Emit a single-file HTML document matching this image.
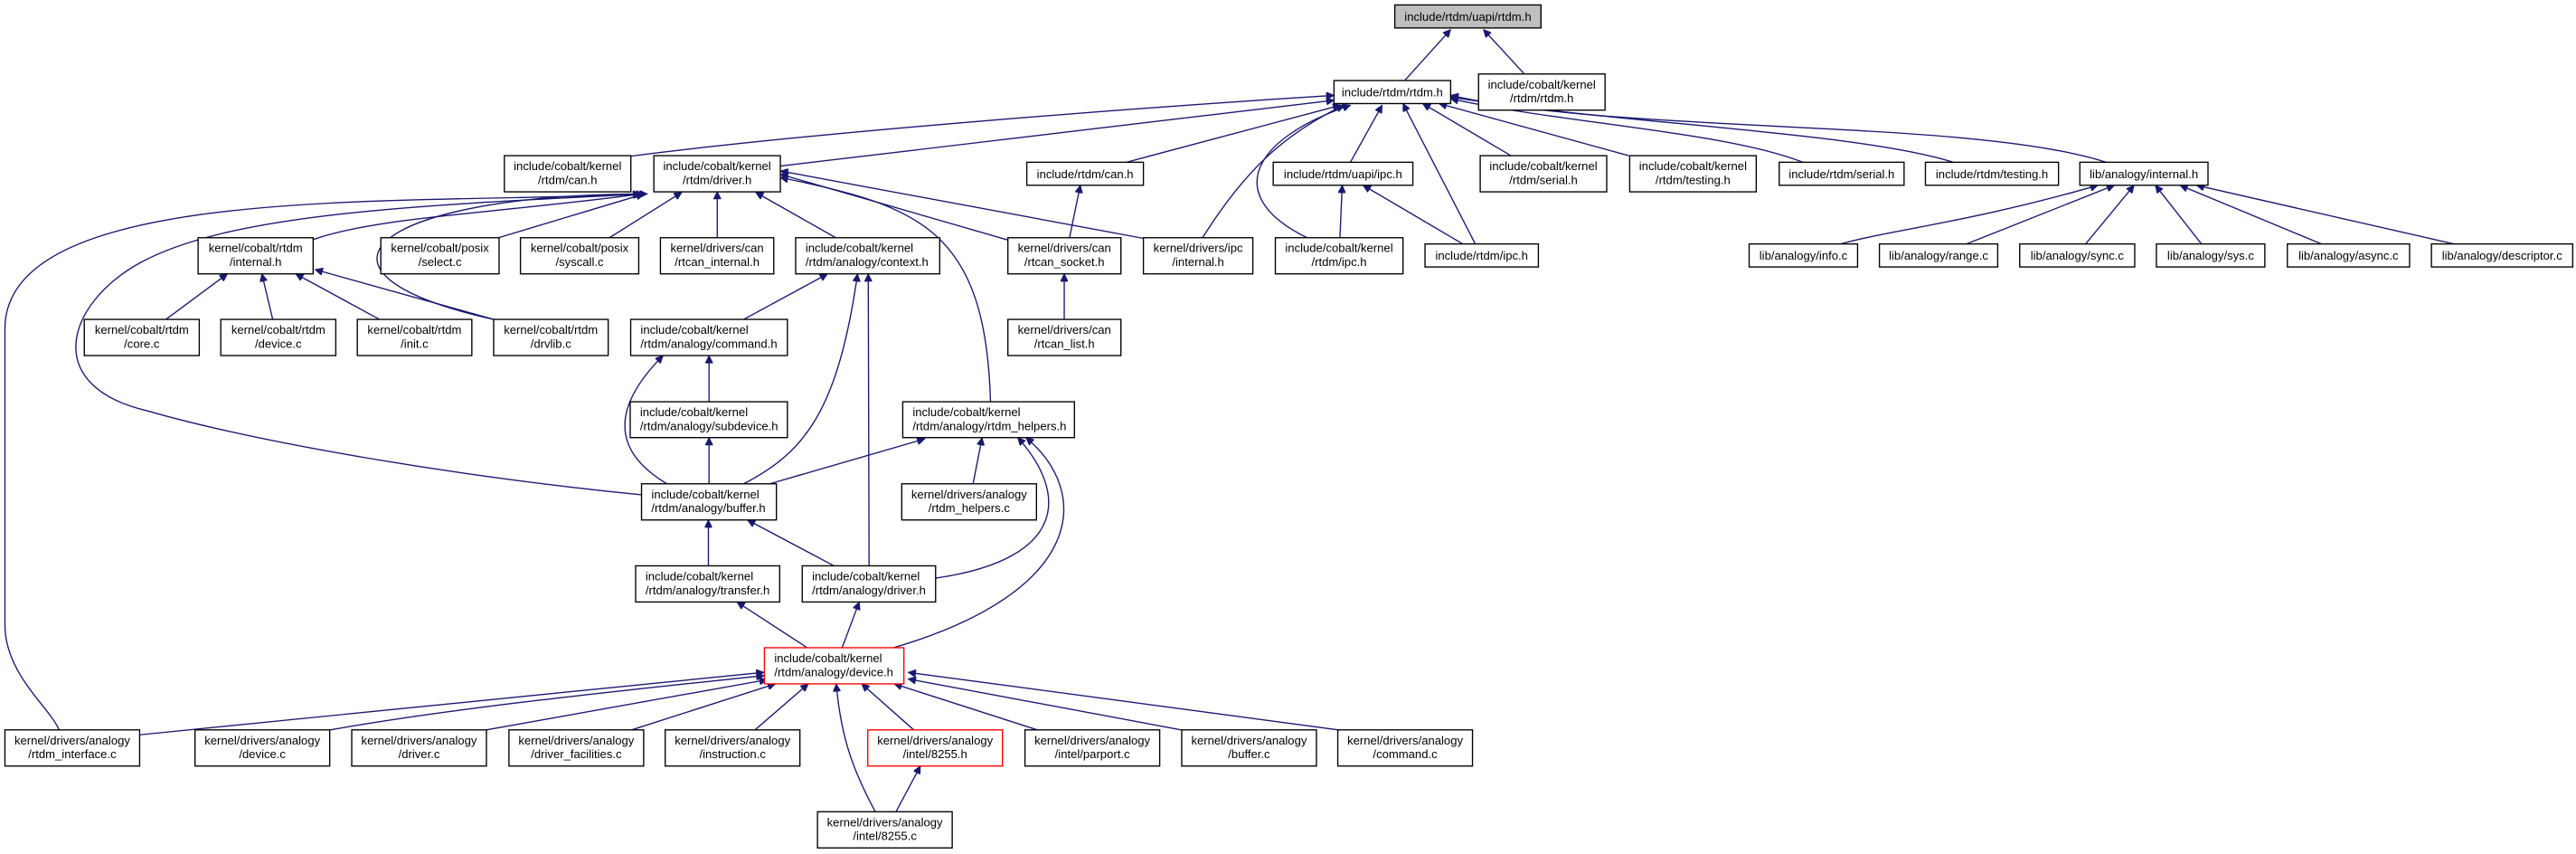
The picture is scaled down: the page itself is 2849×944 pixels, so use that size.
<!DOCTYPE html>
<html><head><meta charset="utf-8"><style>
html,body{margin:0;padding:0;background:#fff;}
svg{display:block;}
text{font-family:"Liberation Sans",Arial,sans-serif;font-size:7.2px;fill:#000;}
.e{fill:none;stroke:#191970;stroke-width:0.75;marker-start:url(#a);}
.n{fill:#fff;stroke:#000;stroke-width:0.75;}
</style></head><body>
<svg width="2849" height="944" viewBox="0 0 1568 519.5" preserveAspectRatio="none" xmlns="http://www.w3.org/2000/svg">
<defs><marker id="a" viewBox="0 0 10 10" refX="10" refY="5" markerWidth="5.5" markerHeight="4.5" markerUnits="userSpaceOnUse" orient="auto-start-reverse"><path d="M0,0 L10,5 L0,10 z" fill="#191970" stroke="#191970"/></marker></defs>
<g>
<path class="e" d="M883,18 L855,49"/>
<path class="e" d="M903,18 L927.5,44.6"/>
<path class="e" d="M812,58 C700,65 500,80 384,95"/>
<path class="e" d="M812,61 L475,101"/>
<path class="e" d="M816,64 L685.6,98.7"/>
<path class="e" d="M818,64 C785,80 760,100 732,144.6"/>
<path class="e" d="M822,64 C760,85 745,120 795.6,144.6"/>
<path class="e" d="M841.3,64 L822,98.7"/>
<path class="e" d="M854,63 L898,148.4"/>
<path class="e" d="M866,63 L919.7,94.7"/>
<path class="e" d="M876,63 L991.4,94.7"/>
<path class="e" d="M883,60 C950,75 1050,80 1097.4,98.7"/>
<path class="e" d="M883,59 C980,75 1130,80 1189,98.7"/>
<path class="e" d="M883,58 C990,82 1200,72 1282,98.7"/>
<path class="e" d="M390,118 C300,130 230,132 191,145.6"/>
<path class="e" d="M392,118 L303.5,144.6"/>
<path class="e" d="M415,117 L371,144.6"/>
<path class="e" d="M436.6,116.5 L436.6,144.6"/>
<path class="e" d="M460,117 L508.7,144.6"/>
<path class="e" d="M475,106 L613.5,146"/>
<path class="e" d="M475,104 L696,145"/>
<path class="e" d="M475,108 C560,125 600,140 602.9,244.4"/>
<path class="e" d="M394,118 C230,118 170,165 300.5,194.3"/>
<path class="e" d="M390,118 C250,125 3,110 3,200 L3,380 C3,410 30,430 36,444"/>
<path class="e" d="M392,118 C250,125 140,130 85,160 C40,185 25,235 90,250 C160,270 280,290 390.5,301"/>
<path class="e" d="M138.4,166.6 L101,194.3"/>
<path class="e" d="M159.4,166.6 L166,194.3"/>
<path class="e" d="M180,166.6 L231,194.3"/>
<path class="e" d="M191.8,164 L300.5,194.3"/>
<path class="e" d="M503.7,166.6 L452.7,194.3"/>
<path class="e" d="M522,166.6 C510,250 490,275 452.7,294.3"/>
<path class="e" d="M528.5,166.6 L529,344.2"/>
<path class="e" d="M431.6,216.3 L431.6,244.4"/>
<path class="e" d="M403.6,216.3 C380,240 365,270 406,294.3"/>
<path class="e" d="M431.6,266.2 L431.6,294.3"/>
<path class="e" d="M562.9,267 L468.6,294.3"/>
<path class="e" d="M597.8,266.2 L592.3,294.3"/>
<path class="e" d="M619.5,266.2 C650,300 650,340 569.5,351.7"/>
<path class="e" d="M624.5,266.2 C665,300 660,360 544,394"/>
<path class="e" d="M431.2,316.3 L431.2,344.2"/>
<path class="e" d="M455,316.3 L507.6,344.2"/>
<path class="e" d="M448.6,366.2 L491.3,394"/>
<path class="e" d="M523,366.2 L512.6,394"/>
<path class="e" d="M465,409 L85,447"/>
<path class="e" d="M465,411 C380,420 280,430 201,444"/>
<path class="e" d="M466.9,413.5 L296,444"/>
<path class="e" d="M472,416 L384.5,444"/>
<path class="e" d="M492,416 L459.6,444"/>
<path class="e" d="M509,416 C512,450 520,470 532.8,493.8"/>
<path class="e" d="M524.5,416 L556.2,444"/>
<path class="e" d="M544.3,416 L631.4,444"/>
<path class="e" d="M552.8,413 L719,444"/>
<path class="e" d="M552.8,409 L814.6,444"/>
<path class="e" d="M560.2,466 L545.4,493.8"/>
<path class="e" d="M647.8,166.6 L647.8,194.3"/>
<path class="e" d="M657.6,112.7 L651,144.6"/>
<path class="e" d="M817,112.7 L815.6,144.6"/>
<path class="e" d="M829.7,112.7 L890.4,148.4"/>
<path class="e" d="M1277,112.7 C1200,135 1150,140 1120.5,148.4"/>
<path class="e" d="M1287,112.7 L1197,148.4"/>
<path class="e" d="M1299,112.7 L1269.5,148.4"/>
<path class="e" d="M1312,112.7 L1340,148.4"/>
<path class="e" d="M1327,112.7 L1413,148.4"/>
<path class="e" d="M1337,112.7 L1493.7,148.4"/>
</g>
<g>
<rect x="849" y="3" width="89" height="14" fill="#bfbfbf" stroke="#000" stroke-width="0.75"/><text x="893.5" y="12.6" text-anchor="middle">include/rtdm/uapi/rtdm.h</text>
<rect class="n" x="812" y="49" width="71" height="14"/><text x="847.5" y="58.6" text-anchor="middle">include/rtdm/rtdm.h</text>
<rect class="n" x="900" y="45" width="77" height="22"/><text x="938.5" y="53.8" text-anchor="middle">include/cobalt/kernel</text><text x="938.5" y="62.3" text-anchor="middle">/rtdm/rtdm.h</text>

<rect class="n" x="307" y="94.7" width="77" height="22"/><text x="345.5" y="103.5" text-anchor="middle">include/cobalt/kernel</text><text x="345.5" y="112" text-anchor="middle">/rtdm/can.h</text>
<rect class="n" x="398" y="94.7" width="77" height="22"/><text x="436.5" y="103.5" text-anchor="middle">include/cobalt/kernel</text><text x="436.5" y="112" text-anchor="middle">/rtdm/driver.h</text>
<rect class="n" x="625" y="98.7" width="71" height="14"/><text x="660.5" y="108.3" text-anchor="middle">include/rtdm/can.h</text>
<rect class="n" x="775" y="98.7" width="85" height="14"/><text x="817.5" y="108.3" text-anchor="middle">include/rtdm/uapi/ipc.h</text>
<rect class="n" x="901" y="94.7" width="77" height="22"/><text x="939.5" y="103.5" text-anchor="middle">include/cobalt/kernel</text><text x="939.5" y="112" text-anchor="middle">/rtdm/serial.h</text>
<rect class="n" x="992" y="94.7" width="77" height="22"/><text x="1030.5" y="103.5" text-anchor="middle">include/cobalt/kernel</text><text x="1030.5" y="112" text-anchor="middle">/rtdm/testing.h</text>
<rect class="n" x="1083" y="98.7" width="76" height="14"/><text x="1121" y="108.3" text-anchor="middle">include/rtdm/serial.h</text>
<rect class="n" x="1172" y="98.7" width="81" height="14"/><text x="1212.5" y="108.3" text-anchor="middle">include/rtdm/testing.h</text>
<rect class="n" x="1266" y="98.7" width="78" height="14"/><text x="1305" y="108.3" text-anchor="middle">lib/analogy/internal.h</text>

<rect class="n" x="120.6" y="144.6" width="70" height="22"/><text x="155.6" y="153.4" text-anchor="middle">kernel/cobalt/rtdm</text><text x="155.6" y="161.9" text-anchor="middle">/internal.h</text>
<rect class="n" x="231.8" y="144.6" width="72" height="22"/><text x="267.8" y="153.4" text-anchor="middle">kernel/cobalt/posix</text><text x="267.8" y="161.9" text-anchor="middle">/select.c</text>
<rect class="n" x="316.8" y="144.6" width="72" height="22"/><text x="352.8" y="153.4" text-anchor="middle">kernel/cobalt/posix</text><text x="352.8" y="161.9" text-anchor="middle">/syscall.c</text>
<rect class="n" x="402" y="144.6" width="69" height="22"/><text x="436.5" y="153.4" text-anchor="middle">kernel/drivers/can</text><text x="436.5" y="161.9" text-anchor="middle">/rtcan_internal.h</text>
<rect class="n" x="484.3" y="144.6" width="87.7" height="22"/><text x="490.3" y="153.4">include/cobalt/kernel</text><text x="490.3" y="161.9">/rtdm/analogy/context.h</text>
<rect class="n" x="613.5" y="144.6" width="68.8" height="22"/><text x="647.9" y="153.4" text-anchor="middle">kernel/drivers/can</text><text x="647.9" y="161.9" text-anchor="middle">/rtcan_socket.h</text>
<rect class="n" x="696" y="144.6" width="66.6" height="22"/><text x="729.3" y="153.4" text-anchor="middle">kernel/drivers/ipc</text><text x="729.3" y="161.9" text-anchor="middle">/internal.h</text>
<rect class="n" x="776.3" y="144.6" width="77.7" height="22"/><text x="815.1" y="153.4" text-anchor="middle">include/cobalt/kernel</text><text x="815.1" y="161.9" text-anchor="middle">/rtdm/ipc.h</text>
<rect class="n" x="867.4" y="148.4" width="69" height="14"/><text x="901.9" y="158" text-anchor="middle">include/rtdm/ipc.h</text>

<rect class="n" x="1064.7" y="148.4" width="66" height="14"/><text x="1097.7" y="158" text-anchor="middle">lib/analogy/info.c</text>
<rect class="n" x="1144" y="148.4" width="72" height="14"/><text x="1180" y="158" text-anchor="middle">lib/analogy/range.c</text>
<rect class="n" x="1229.4" y="148.4" width="70" height="14"/><text x="1264.4" y="158" text-anchor="middle">lib/analogy/sync.c</text>
<rect class="n" x="1312.6" y="148.4" width="66" height="14"/><text x="1345.6" y="158" text-anchor="middle">lib/analogy/sys.c</text>
<rect class="n" x="1392.3" y="148.4" width="74.4" height="14"/><text x="1429.5" y="158" text-anchor="middle">lib/analogy/async.c</text>
<rect class="n" x="1480" y="148.4" width="86" height="14"/><text x="1523" y="158" text-anchor="middle">lib/analogy/descriptor.c</text>

<rect class="n" x="51.3" y="194.3" width="70" height="22"/><text x="86.3" y="203.1" text-anchor="middle">kernel/cobalt/rtdm</text><text x="86.3" y="211.6" text-anchor="middle">/core.c</text>
<rect class="n" x="134.4" y="194.3" width="70" height="22"/><text x="169.4" y="203.1" text-anchor="middle">kernel/cobalt/rtdm</text><text x="169.4" y="211.6" text-anchor="middle">/device.c</text>
<rect class="n" x="217.5" y="194.3" width="69.7" height="22"/><text x="252.3" y="203.1" text-anchor="middle">kernel/cobalt/rtdm</text><text x="252.3" y="211.6" text-anchor="middle">/init.c</text>
<rect class="n" x="300.5" y="194.3" width="69.7" height="22"/><text x="335.3" y="203.1" text-anchor="middle">kernel/cobalt/rtdm</text><text x="335.3" y="211.6" text-anchor="middle">/drvlib.c</text>
<rect class="n" x="383.9" y="194.3" width="95.4" height="22"/><text x="389.9" y="203.1">include/cobalt/kernel</text><text x="389.9" y="211.6">/rtdm/analogy/command.h</text>
<rect class="n" x="613.5" y="194.3" width="68.8" height="22"/><text x="647.9" y="203.1" text-anchor="middle">kernel/drivers/can</text><text x="647.9" y="211.6" text-anchor="middle">/rtcan_list.h</text>

<rect class="n" x="383.6" y="244.4" width="95.7" height="21.8"/><text x="389.6" y="253.2">include/cobalt/kernel</text><text x="389.6" y="261.7">/rtdm/analogy/subdevice.h</text>
<rect class="n" x="549.5" y="244.4" width="104.5" height="21.8"/><text x="555.5" y="253.2">include/cobalt/kernel</text><text x="555.5" y="261.7">/rtdm/analogy/rtdm_helpers.h</text>

<rect class="n" x="390.5" y="294.3" width="82.1" height="22"/><text x="396.5" y="303.1">include/cobalt/kernel</text><text x="396.5" y="311.6">/rtdm/analogy/buffer.h</text>
<rect class="n" x="548.9" y="294.3" width="82" height="22"/><text x="589.9" y="303.1" text-anchor="middle">kernel/drivers/analogy</text><text x="589.9" y="311.6" text-anchor="middle">/rtdm_helpers.c</text>

<rect class="n" x="386.9" y="344.2" width="87.7" height="22"/><text x="392.9" y="353">include/cobalt/kernel</text><text x="392.9" y="361.5">/rtdm/analogy/transfer.h</text>
<rect class="n" x="488.3" y="344.2" width="81.2" height="22"/><text x="494.3" y="353">include/cobalt/kernel</text><text x="494.3" y="361.5">/rtdm/analogy/driver.h</text>

<rect x="465.3" y="394" width="84.9" height="22" fill="#fff" stroke="#ff0000" stroke-width="0.75"/><text x="471.3" y="402.8">include/cobalt/kernel</text><text x="471.3" y="411.3">/rtdm/analogy/device.h</text>

<rect class="n" x="3" y="444" width="82" height="22"/><text x="44" y="452.8" text-anchor="middle">kernel/drivers/analogy</text><text x="44" y="461.3" text-anchor="middle">/rtdm_interface.c</text>
<rect class="n" x="118.7" y="444" width="82" height="22"/><text x="159.7" y="452.8" text-anchor="middle">kernel/drivers/analogy</text><text x="159.7" y="461.3" text-anchor="middle">/device.c</text>
<rect class="n" x="214.1" y="444" width="82" height="22"/><text x="255.1" y="452.8" text-anchor="middle">kernel/drivers/analogy</text><text x="255.1" y="461.3" text-anchor="middle">/driver.c</text>
<rect class="n" x="309.8" y="444" width="82" height="22"/><text x="350.8" y="452.8" text-anchor="middle">kernel/drivers/analogy</text><text x="350.8" y="461.3" text-anchor="middle">/driver_facilities.c</text>
<rect class="n" x="404.9" y="444" width="82" height="22"/><text x="445.9" y="452.8" text-anchor="middle">kernel/drivers/analogy</text><text x="445.9" y="461.3" text-anchor="middle">/instruction.c</text>
<rect x="528.2" y="444" width="82" height="22" fill="#fff" stroke="#ff0000" stroke-width="0.75"/><text x="569.2" y="452.8" text-anchor="middle">kernel/drivers/analogy</text><text x="569.2" y="461.3" text-anchor="middle">/intel/8255.h</text>
<rect class="n" x="623.9" y="444" width="82" height="22"/><text x="664.9" y="452.8" text-anchor="middle">kernel/drivers/analogy</text><text x="664.9" y="461.3" text-anchor="middle">/intel/parport.c</text>
<rect class="n" x="719.3" y="444" width="82" height="22"/><text x="760.3" y="452.8" text-anchor="middle">kernel/drivers/analogy</text><text x="760.3" y="461.3" text-anchor="middle">/buffer.c</text>
<rect class="n" x="814.3" y="444" width="82" height="22"/><text x="855.3" y="452.8" text-anchor="middle">kernel/drivers/analogy</text><text x="855.3" y="461.3" text-anchor="middle">/command.c</text>

<rect class="n" x="497.6" y="493.8" width="82" height="22"/><text x="538.6" y="502.6" text-anchor="middle">kernel/drivers/analogy</text><text x="538.6" y="511.1" text-anchor="middle">/intel/8255.c</text>
</g>
</svg>
</body></html>
